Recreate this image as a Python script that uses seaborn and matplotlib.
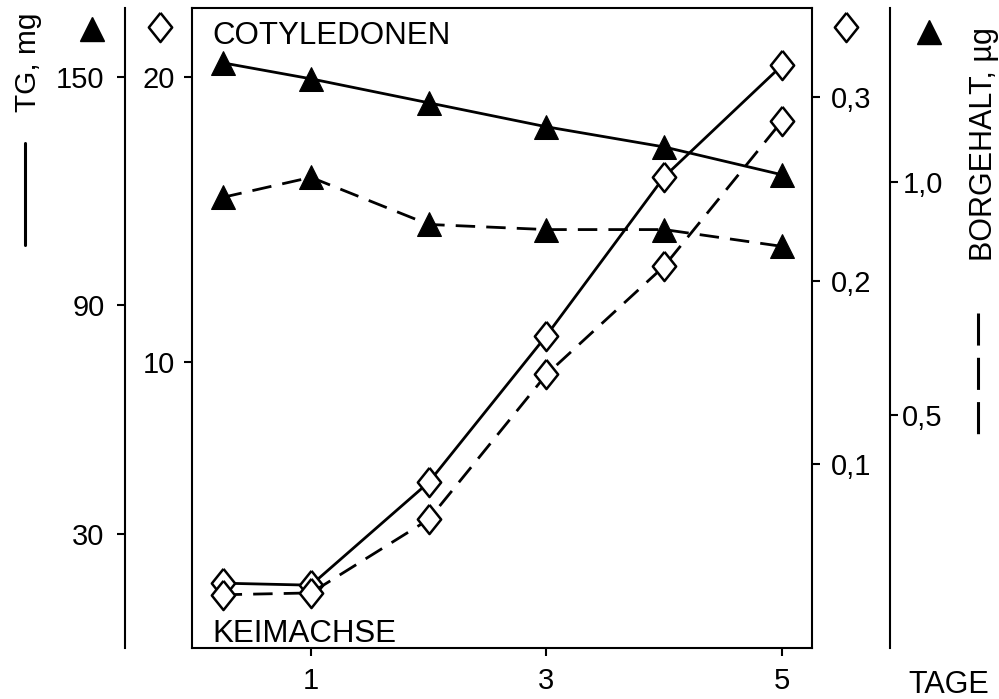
import matplotlib
matplotlib.use('Agg')
import matplotlib.pyplot as plt
from matplotlib.lines import Line2D
import pandas as pd
import seaborn as sns

# ---------------- data ----------------
days = [0.25, 1, 2, 3, 4, 5]
cot_tg = [153.7, 149.5, 143.2, 136.9, 131.6, 124.3]      # Cotyledonen, TG mg (solid, triangles)
cot_bor = [0.966, 1.009, 0.908, 0.897, 0.897, 0.861]    # Cotyledonen, Borgehalt µg (dashed, triangles)
keim_tg = [2.27, 2.20, 5.80, 10.94, 16.5, 20.4]         # Keimachse, TG mg (solid, diamonds)
keim_bor = [0.029, 0.030, 0.070, 0.149, 0.208, 0.287]   # Keimachse, Borgehalt µg (dashed, diamonds)

x_ticks = [1, 3, 5]
x_ticklabels = ['1', '3', '5']
cot_tg_ticks = [30, 90, 150]
cot_tg_labels = ['30', '90', '150']
keim_tg_ticks = [10, 20]
keim_tg_labels = ['10', '20']
keim_bor_ticks = [0.1, 0.2, 0.3]
keim_bor_labels = ['0,1', '0,2', '0,3']
cot_bor_ticks = [0.5, 1.0]
cot_bor_labels = ['0,5', '1,0']

# ---------------- style ----------------
sns.set_style('ticks')
plt.rcParams['font.family'] = ['Liberation Sans', 'DejaVu Sans']
plt.rcParams['text.color'] = 'black'
plt.rcParams['axes.labelcolor'] = 'black'
plt.rcParams['xtick.color'] = 'black'
plt.rcParams['ytick.color'] = 'black'

fig = plt.figure(figsize=(9.99, 6.99), dpi=100)
W, H = 999.0, 699.0
L, R, T, B = 192, 812, 8, 648
ax_kl = fig.add_axes([L / W, 1 - B / H, (R - L) / W, (B - T) / H])
ax_cl = ax_kl.twinx()
ax_kr = ax_kl.twinx()
ax_cr = ax_kl.twinx()

LW = 2.0
DASH = (0, (7, 4))
diamond = [(0, 1), (0.8, 0), (0, -1), (-0.8, 0), (0, 1)]
tri_kw = dict(marker='^', markersize=17, markerfacecolor='black',
              markeredgecolor='black', color='black', linewidth=LW)
dia_kw = dict(marker=diamond, markersize=21, markerfacecolor='white',
              markeredgecolor='black', markeredgewidth=1.8, color='black',
              linewidth=LW)

df = pd.DataFrame({'Tag': days, 'cot_tg': cot_tg, 'cot_bor': cot_bor,
                   'keim_tg': keim_tg, 'keim_bor': keim_bor})

sns.lineplot(data=df, x='Tag', y='cot_bor', ax=ax_cr, errorbar=None,
             linestyle=DASH, **tri_kw)
sns.lineplot(data=df, x='Tag', y='cot_tg', ax=ax_cl, errorbar=None,
             linestyle='-', **tri_kw)
sns.lineplot(data=df, x='Tag', y='keim_bor', ax=ax_kr, errorbar=None,
             linestyle=DASH, **dia_kw)
sns.lineplot(data=df, x='Tag', y='keim_tg', ax=ax_kl, errorbar=None,
             linestyle='-', **dia_kw)

ax_kr.set_zorder(3)
ax_cl.set_zorder(1)
ax_cr.set_zorder(2)
ax_kl.set_zorder(0)
ax_kl.patch.set_visible(False)

for a in (ax_kl, ax_cl, ax_kr, ax_cr):
    a.set_xlabel('')
    a.set_ylabel('')
    a.set_xlim(-0.01, 5.255)

ax_kl.set_ylim(0, 22.41)
ax_cl.set_ylim(0, 168.1)
ax_kr.set_ylim(0, 0.3486)
ax_cr.set_ylim(0, 1.372)

SPW = 1.5
TLS = 21
tick_kw = dict(direction='out', length=6, width=SPW, labelsize=TLS, colors='black')

# main box + inner left axis
for s in ax_kl.spines.values():
    s.set_visible(True)
    s.set_linewidth(SPW)
    s.set_color('black')
ax_kl.set_xticks(x_ticks)
ax_kl.set_xticklabels(x_ticklabels)
ax_kl.set_yticks(keim_tg_ticks)
ax_kl.set_yticklabels(keim_tg_labels)
ax_kl.tick_params(axis='y', left=True, right=False, pad=6, **tick_kw)
ax_kl.tick_params(axis='x', bottom=True, top=False, pad=8, **tick_kw)

# outer left axis (Cotyledonen TG)
for name, s in ax_cl.spines.items():
    s.set_visible(name == 'left')
ax_cl.spines['left'].set_position(('outward', 48))
ax_cl.spines['left'].set_linewidth(SPW)
ax_cl.spines['left'].set_color('black')
ax_cl.yaxis.set_ticks_position('left')
ax_cl.set_yticks(cot_tg_ticks)
ax_cl.set_yticklabels(cot_tg_labels)
ax_cl.tick_params(axis='y', pad=9, **tick_kw)

# inner right axis (Keimachse Borgehalt)
for name, s in ax_kr.spines.items():
    s.set_visible(False)
ax_kr.yaxis.set_ticks_position('right')
ax_kr.set_yticks(keim_bor_ticks)
ax_kr.set_yticklabels(keim_bor_labels)
ax_kr.tick_params(axis='y', pad=7.5, **tick_kw)

# outer right axis (Cotyledonen Borgehalt)
for name, s in ax_cr.spines.items():
    s.set_visible(name == 'right')
ax_cr.spines['right'].set_position(('outward', 56))
ax_cr.spines['right'].set_linewidth(SPW)
ax_cr.spines['right'].set_color('black')
ax_cr.yaxis.set_ticks_position('right')
ax_cr.set_yticks(cot_bor_ticks)
ax_cr.set_yticklabels(cot_bor_labels)
ax_cr.tick_params(axis='y', pad=3, **tick_kw)

for a in (ax_cl, ax_kr, ax_cr):
    a.tick_params(axis='x', bottom=False, top=False, labelbottom=False, labeltop=False)

# ---------------- annotations ----------------
def fx(px):
    return px / W

def fy(py):
    return 1 - py / H

fig.text(fx(212), fy(44), 'COTYLEDONEN', fontsize=22.5, ha='left', va='baseline')
fig.text(fx(212), fy(642), 'KEIMACHSE', fontsize=22.5, ha='left', va='baseline')
fig.text(fx(949), fy(693), 'TAGE', fontsize=22, ha='center', va='baseline')
fig.text(fx(28), fy(62), 'TG, mg', fontsize=21.5, rotation=90, ha='center', va='center')
fig.text(fx(984), fy(144), 'BORGEHALT, µg', fontsize=22, rotation=90, ha='center', va='center')

# symbol keys above the axes
fig.add_artist(Line2D([fx(92)], [fy(29)], transform=fig.transFigure, linestyle='none',
                      marker='^', markersize=17, color='black'))
fig.add_artist(Line2D([fx(929)], [fy(32)], transform=fig.transFigure, linestyle='none',
                      marker='^', markersize=17, color='black'))
fig.add_artist(Line2D([fx(160)], [fy(27)], transform=fig.transFigure, linestyle='none',
                      marker=diamond, markersize=21, markerfacecolor='white',
                      markeredgecolor='black', markeredgewidth=1.8))
fig.add_artist(Line2D([fx(846)], [fy(27)], transform=fig.transFigure, linestyle='none',
                      marker=diamond, markersize=21, markerfacecolor='white',
                      markeredgecolor='black', markeredgewidth=1.8))

# line-style keys
fig.add_artist(Line2D([fx(25), fx(25)], [fy(143), fy(245)], transform=fig.transFigure,
                      color='black', linewidth=2.2))
fig.add_artist(Line2D([fx(978), fx(978)], [fy(313), fy(435)], transform=fig.transFigure,
                      color='black', linewidth=2.2, linestyle=(0, (10.5, 4))))

fig.savefig('out.png', dpi=100)
